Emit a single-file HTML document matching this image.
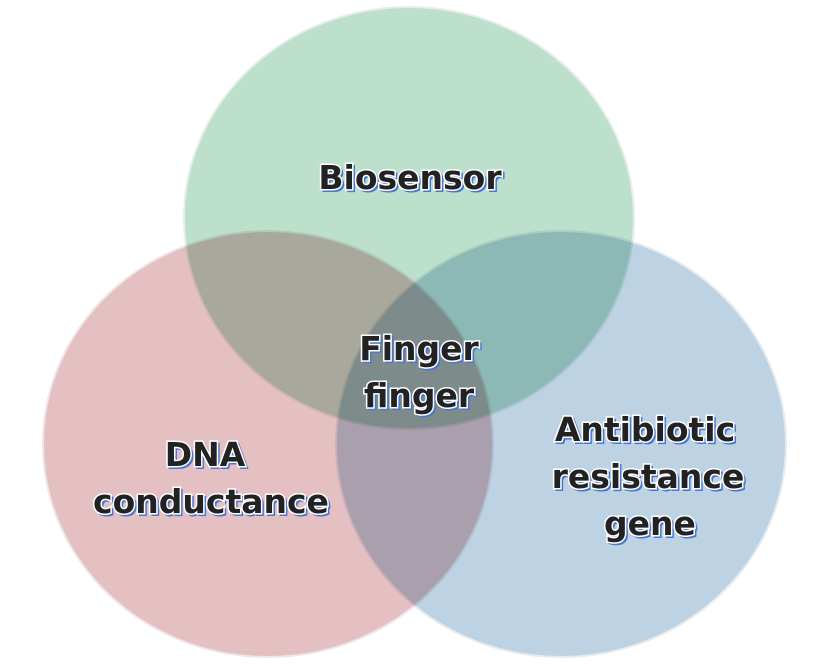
<!DOCTYPE html>
<html><head><meta charset="utf-8"><style>
html,body{margin:0;padding:0;background:#fff;}
svg{display:block;}
.c{mix-blend-mode:multiply;}
text{font-family:"DejaVu Sans","Liberation Sans",sans-serif;font-size:33px;font-weight:bold;text-anchor:middle;}
.sh{fill:#4a78d0;stroke:#4a78d0;stroke-width:2px;}
.t{fill:#222;stroke:#fff;stroke-width:3px;paint-order:stroke;}
</style></head><body>
<svg width="824" height="668" viewBox="0 0 824 668">
<g>
<ellipse class="c" cx="409" cy="218" rx="225" ry="211" fill="#bde0cc" stroke="#e6eee9" stroke-width="2"/>
<ellipse class="c" cx="268" cy="444" rx="225" ry="213" fill="#e4c0c3" stroke="#eee6e7" stroke-width="2"/>
<ellipse class="c" cx="561" cy="444" rx="225" ry="213" fill="#bdd3e3" stroke="#e6ebef" stroke-width="2"/>
</g>
<g>
<text class="sh" x="412" y="191">Biosensor</text><text class="t" x="410" y="189">Biosensor</text></g>
<g>
<text class="sh" x="421" y="362">Finger</text><text class="t" x="419" y="360">Finger</text>
<text class="sh" x="421" y="409">finger</text><text class="t" x="419" y="407">finger</text></g>
<g>
<text class="sh" x="207" y="468">DNA</text><text class="t" x="205" y="466">DNA</text>
<text class="sh" x="213" y="515">conductance</text><text class="t" x="211" y="513">conductance</text></g>
<g>
<text class="sh" x="647" y="443">Antibiotic</text><text class="t" x="645" y="441">Antibiotic</text>
<text class="sh" x="650" y="490">resistance</text><text class="t" x="648" y="488">resistance</text>
<text class="sh" x="652" y="537">gene</text><text class="t" x="650" y="535">gene</text></g>
</svg>
</body></html>
